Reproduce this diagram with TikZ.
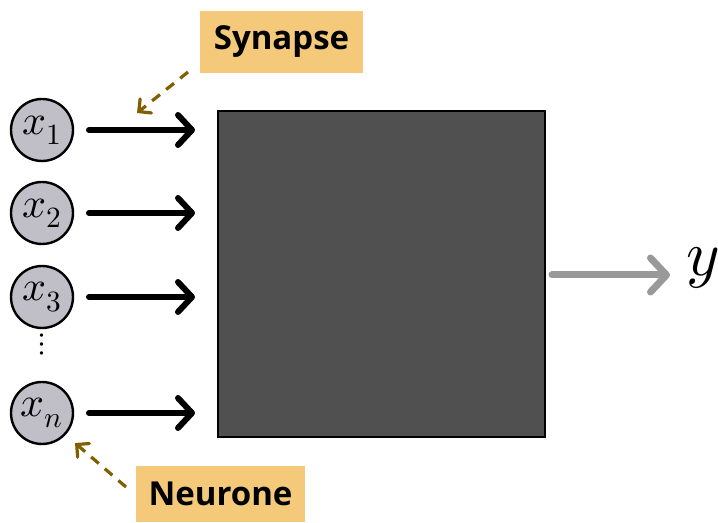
\documentclass[tikz,border=0pt]{standalone}
\usepackage{fontspec}
\usepackage{unicode-math}
\setmainfont{Open Sans}
\usetikzlibrary{arrows.meta}
\definecolor{boxgray}{HTML}{505050}
\definecolor{neurfill}{HTML}{C0BFC8}
\definecolor{labelfill}{HTML}{F5C97A}
\definecolor{dashbrown}{HTML}{7F5F00}
\definecolor{outgray}{HTML}{999999}
\tikzset{
  neuron/.style={circle, draw=black, line width=1.2pt, fill=neurfill, minimum size=31pt, inner sep=0pt, font=\fontsize{21}{22}\selectfont},
  inarrow/.style={line width=3pt, line cap=round, -{Straight Barb[length=7pt,width=15pt,line cap=round,line join=round]}},
  outarrow/.style={draw=outgray, line width=3.5pt, line cap=round, -{Straight Barb[length=8pt,width=17pt,line cap=round,line join=round]}},
  tag/.style={fill=labelfill, inner sep=0pt, font=\fontsize{16.5}{18}\selectfont\bfseries},
  dasharrow/.style={draw=dashbrown, line width=1.6pt, dash pattern=on 5pt off 4pt, -{Straight Barb[length=4.5pt,width=9pt,line cap=round]}},
}
\begin{document}
\begin{tikzpicture}[x=0.5pt,y=-0.5pt]
\useasboundingbox (0,0) rectangle (718,523);
\node[neuron] (x1) at (42,130) {$x_1$};
\node[neuron] (x2) at (42,213) {$x_2$};
\node[neuron] (x3) at (42,297) {$x_3$};
\node[neuron] (xn) at (42,413) {$x_n$};
\node (dots) at (42,345) {\fontsize{16}{16}\selectfont$\vdots$};
\node[draw=black, line width=1pt, fill=boxgray, minimum width=163.5pt, minimum height=163pt, inner sep=0pt] (box) at (381.5,274) {};
\coordinate (t1) at (195,130);
\coordinate (t2) at (195,213);
\coordinate (t3) at (195,297);
\coordinate (tn) at (195,413);
\coordinate (s1) at (89,130);
\coordinate (s2) at (89,213);
\coordinate (s3) at (89,297);
\coordinate (sn) at (89,413);
\draw[inarrow] (s1) -- (t1);
\draw[inarrow] (s2) -- (t2);
\draw[inarrow] (s3) -- (t3);
\draw[inarrow] (sn) -- (tn);
\coordinate (o1) at (552,275);
\coordinate (o2) at (670,275);
\draw[outarrow] (o1) -- (o2);
\node[anchor=west, inner sep=0pt] (y) at (686,268) {\fontsize{32}{32}\selectfont$y$};
\node[tag, minimum width=81.5pt, minimum height=31pt] (syn) at (281.5,42) {Synapse};
\node[tag, minimum width=84.5pt, minimum height=28pt] (neu) at (220.5,494) {Neurone};
\coordinate (sa) at (188,72);
\coordinate (sb) at (137,113);
\draw[dasharrow] (sa) -- (sb);
\coordinate (na) at (126,487);
\coordinate (nb) at (75,443);
\draw[dasharrow] (na) -- (nb);
\end{tikzpicture}
\end{document}
